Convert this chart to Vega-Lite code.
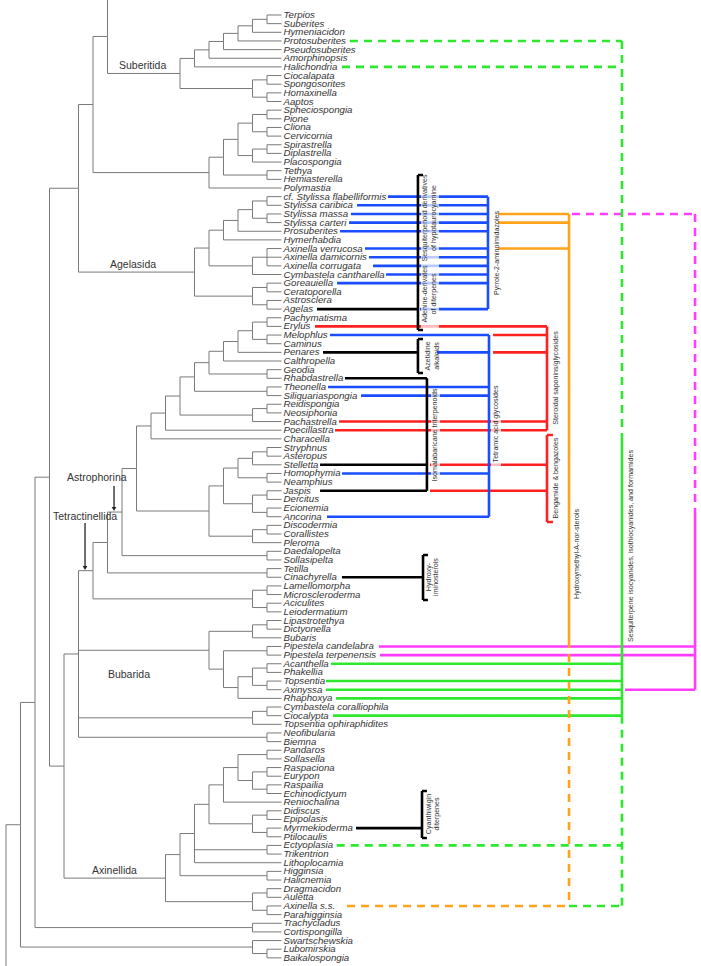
{
"$schema": "https://vega.github.io/schema/vega-lite/v6.json",
"width": 701, "height": 966, "padding": 0, "autosize": {"type": "none"},
"background": "white",
"config": {"view": {"stroke": null}},
"datasets": {
"nodes": [
{"id":"Terpios","parent":"S1","d":19,"i":1},
{"id":"Suberites","parent":"S1","d":19,"i":2},
{"id":"Hymeniacidon","parent":"S2","d":19,"i":3},
{"id":"Protosuberites","parent":"S3","d":19,"i":4},
{"id":"Pseudosuberites","parent":"S4","d":19,"i":5},
{"id":"Amorphinopsis","parent":"S5","d":19,"i":6},
{"id":"Halichondria","parent":"S6","d":19,"i":7},
{"id":"Ciocalapata","parent":"C1","d":19,"i":8},
{"id":"Spongosorites","parent":"C1","d":19,"i":9},
{"id":"Homaxinella","parent":"C2","d":19,"i":10},
{"id":"Aaptos","parent":"C2","d":19,"i":11},
{"id":"Spheciospongia","parent":"P1","d":19,"i":12},
{"id":"Pione","parent":"P1","d":19,"i":13},
{"id":"Cliona","parent":"P2","d":19,"i":14},
{"id":"Cervicornia","parent":"P2","d":19,"i":15},
{"id":"Spirastrella","parent":"P4","d":19,"i":16},
{"id":"Diplastrella","parent":"P4","d":19,"i":17},
{"id":"Placospongia","parent":"P5","d":19,"i":18},
{"id":"Tethya","parent":"P7","d":19,"i":19},
{"id":"Hemiasterella","parent":"P7","d":19,"i":20},
{"id":"Polymastia","parent":"P9","d":19,"i":21},
{"id":"cf. Stylissa flabelliformis","parent":"A0a","d":19,"i":22},
{"id":"Stylissa caribica","parent":"A0a","d":19,"i":23},
{"id":"Stylissa massa","parent":"A0b","d":19,"i":24},
{"id":"Stylissa carteri","parent":"A0b","d":19,"i":25},
{"id":"Prosuberites","parent":"A2","d":19,"i":26},
{"id":"Hymerhabdia","parent":"A3","d":19,"i":27},
{"id":"Axinella verrucosa","parent":"Ax","d":19,"i":28},
{"id":"Axinella damicornis","parent":"Ax","d":19,"i":29},
{"id":"Axinella corrugata","parent":"Ax","d":19,"i":30},
{"id":"Cymbastela cantharella","parent":"A4","d":19,"i":31},
{"id":"Goreauiella","parent":"A5a","d":19,"i":32},
{"id":"Ceratoporella","parent":"A5a","d":19,"i":33},
{"id":"Astrosclera","parent":"A5b","d":19,"i":34},
{"id":"Agelas","parent":"A5b","d":19,"i":35},
{"id":"Pachymatisma","parent":"T1","d":19,"i":36},
{"id":"Erylus","parent":"T1","d":19,"i":37},
{"id":"Melophlus","parent":"T2","d":19,"i":38},
{"id":"Caminus","parent":"T2","d":19,"i":39},
{"id":"Penares","parent":"T4","d":19,"i":40},
{"id":"Calthropella","parent":"T5","d":19,"i":41},
{"id":"Geodia","parent":"T6","d":19,"i":42},
{"id":"Rhabdastrella","parent":"T6","d":19,"i":43},
{"id":"Theonella","parent":"T8","d":19,"i":44},
{"id":"Siliquariaspongia","parent":"T8","d":19,"i":45},
{"id":"Reidispongia","parent":"T10","d":19,"i":46},
{"id":"Neosiphonia","parent":"T10","d":19,"i":47},
{"id":"Pachastrella","parent":"T11","d":19,"i":48},
{"id":"Poecillastra","parent":"T13","d":19,"i":49},
{"id":"Characella","parent":"T14","d":19,"i":50},
{"id":"Stryphnus","parent":"U1","d":19,"i":51},
{"id":"Asteropus","parent":"U1","d":19,"i":52},
{"id":"Stelletta","parent":"U2","d":19,"i":53},
{"id":"Homophymia","parent":"U3","d":19,"i":54},
{"id":"Neamphius","parent":"U3","d":19,"i":55},
{"id":"Jaspis","parent":"U5","d":19,"i":56},
{"id":"Dercitus","parent":"U5","d":19,"i":57},
{"id":"Ecionemia","parent":"U6","d":19,"i":58},
{"id":"Ancorina","parent":"U6","d":19,"i":59},
{"id":"Discodermia","parent":"U9","d":19,"i":60},
{"id":"Corallistes","parent":"U9","d":19,"i":61},
{"id":"Pleroma","parent":"U10","d":19,"i":62},
{"id":"Daedalopelta","parent":"V1","d":19,"i":63},
{"id":"Sollasipelta","parent":"V1","d":19,"i":64},
{"id":"Tetilla","parent":"W1","d":19,"i":65},
{"id":"Cinachyrella","parent":"W1","d":19,"i":66},
{"id":"Lamellomorpha","parent":"W2","d":19,"i":67},
{"id":"Microscleroderma","parent":"W2","d":19,"i":68},
{"id":"Aciculites","parent":"W3","d":19,"i":69},
{"id":"Leiodermatium","parent":"W3","d":19,"i":70},
{"id":"Lipastrotethya","parent":"B1","d":19,"i":71},
{"id":"Dictyonella","parent":"B1","d":19,"i":72},
{"id":"Bubaris","parent":"B2","d":19,"i":73},
{"id":"Pipestela candelabra","parent":"B3","d":19,"i":74},
{"id":"Pipestela terpenensis","parent":"B3","d":19,"i":75},
{"id":"Acanthella","parent":"B4","d":19,"i":76},
{"id":"Phakellia","parent":"B4","d":19,"i":77},
{"id":"Topsentia","parent":"B5","d":19,"i":78},
{"id":"Axinyssa","parent":"B5","d":19,"i":79},
{"id":"Rhaphoxya","parent":"B7","d":19,"i":80},
{"id":"Cymbastela coralliophila","parent":"CC1","d":19,"i":81},
{"id":"Ciocalypta","parent":"CC1","d":19,"i":82},
{"id":"Topsentia ophiraphidites","parent":"CC2","d":19,"i":83},
{"id":"Neofibularia","parent":"NB","d":19,"i":84},
{"id":"Biemna","parent":"NB","d":19,"i":85},
{"id":"Pandaros","parent":"X1","d":19,"i":86},
{"id":"Sollasella","parent":"X1","d":19,"i":87},
{"id":"Raspaciona","parent":"X2","d":19,"i":88},
{"id":"Eurypon","parent":"X2","d":19,"i":89},
{"id":"Raspailia","parent":"X3","d":19,"i":90},
{"id":"Echinodictyum","parent":"X3","d":19,"i":91},
{"id":"Reniochalina","parent":"X6","d":19,"i":92},
{"id":"Didiscus","parent":"X7a","d":19,"i":93},
{"id":"Epipolasis","parent":"X7a","d":19,"i":94},
{"id":"Myrmekioderma","parent":"X7b","d":19,"i":95},
{"id":"Ptilocaulis","parent":"X7b","d":19,"i":96},
{"id":"Ectyoplasia","parent":"X9","d":19,"i":97},
{"id":"Trikentrion","parent":"X9","d":19,"i":98},
{"id":"Lithoplocamia","parent":"X10","d":19,"i":99},
{"id":"Higginsia","parent":"X11","d":19,"i":100},
{"id":"Halicnemia","parent":"X11","d":19,"i":101},
{"id":"Dragmacidon","parent":"X13a","d":19,"i":102},
{"id":"Auletta","parent":"X13a","d":19,"i":103},
{"id":"Axinella s.s.","parent":"X13b","d":19,"i":104},
{"id":"Parahigginsia","parent":"X13b","d":19,"i":105},
{"id":"Trachycladus","parent":"TC","d":19,"i":106},
{"id":"Cortispongilla","parent":"TC","d":19,"i":107},
{"id":"Swartschewskia","parent":"SW2","d":19,"i":108},
{"id":"Lubomirskia","parent":"SW1","d":19,"i":109},
{"id":"Baikalospongia","parent":"SW1","d":19,"i":110},
{"id":"S1","parent":"S2","d":18,"i":1.5},
{"id":"S2","parent":"S3","d":17,"i":2.25},
{"id":"S3","parent":"S4","d":16,"i":3.125},
{"id":"S4","parent":"S5","d":15,"i":4.06},
{"id":"S5","parent":"S6","d":14,"i":5.03},
{"id":"S6","parent":"S7","d":13,"i":6.02},
{"id":"C1","parent":"C3","d":18,"i":8.5},
{"id":"C2","parent":"C3","d":18,"i":10.5},
{"id":"C3","parent":"S7","d":17,"i":9.5},
{"id":"S7","parent":"S8","d":12,"i":7.76},
{"id":"TOP","parent":"S8","d":7,"i":-0.8},
{"id":"S8","parent":"Q1","d":7,"i":3.48},
{"id":"P1","parent":"P3","d":18,"i":12.5},
{"id":"P2","parent":"P3","d":18,"i":14.5},
{"id":"P3","parent":"P6","d":17,"i":13.5},
{"id":"P4","parent":"P5","d":18,"i":16.5},
{"id":"P5","parent":"P6","d":17,"i":17.25},
{"id":"P6","parent":"P8","d":16,"i":15.375},
{"id":"P7","parent":"P8","d":18,"i":19.5},
{"id":"P8","parent":"P9","d":15,"i":17.44},
{"id":"P9","parent":"Q1","d":14,"i":19.22},
{"id":"Q1","parent":"Q2","d":6,"i":11.35},
{"id":"A0a","parent":"A1","d":18,"i":22.5},
{"id":"A0b","parent":"A1","d":18,"i":24.5},
{"id":"A1","parent":"A2","d":17,"i":23.5},
{"id":"A2","parent":"A3","d":16,"i":24.75},
{"id":"A3","parent":"A6","d":15,"i":25.875},
{"id":"Ax","parent":"A4","d":18,"i":29},
{"id":"A4","parent":"A6","d":17,"i":30},
{"id":"A6","parent":"A7","d":14,"i":27.94},
{"id":"A5a","parent":"A5","d":18,"i":32.5},
{"id":"A5b","parent":"A5","d":18,"i":34.5},
{"id":"A5","parent":"A7","d":17,"i":33.5},
{"id":"A7","parent":"Q2","d":13,"i":30.72},
{"id":"Q2","parent":"Q5","d":5,"i":21.03},
{"id":"T1","parent":"T3","d":18,"i":36.5},
{"id":"T2","parent":"T3","d":18,"i":38.5},
{"id":"T3","parent":"T4","d":17,"i":37.5},
{"id":"T4","parent":"T5","d":16,"i":38.75},
{"id":"T5","parent":"T7","d":15,"i":39.875},
{"id":"T6","parent":"T7","d":18,"i":42.5},
{"id":"T7","parent":"T9","d":14,"i":41.19},
{"id":"T8","parent":"T9","d":18,"i":44.5},
{"id":"T9","parent":"T12","d":13,"i":42.84},
{"id":"T10","parent":"T11","d":18,"i":46.5},
{"id":"T11","parent":"T12","d":17,"i":47.25},
{"id":"T12","parent":"T13","d":12,"i":45.05},
{"id":"T13","parent":"T14","d":11,"i":47.02},
{"id":"T14","parent":"T15","d":10,"i":48.51},
{"id":"U1","parent":"U2","d":18,"i":51.5},
{"id":"U2","parent":"U4","d":17,"i":52.25},
{"id":"U3","parent":"U4","d":18,"i":54.5},
{"id":"U4","parent":"U8","d":16,"i":53.375},
{"id":"U5","parent":"U7","d":18,"i":56.5},
{"id":"U6","parent":"U7","d":18,"i":58.5},
{"id":"U7","parent":"U8","d":17,"i":57.5},
{"id":"U8","parent":"U11","d":15,"i":55.44},
{"id":"U9","parent":"U10","d":18,"i":60.5},
{"id":"U10","parent":"U11","d":17,"i":61.25},
{"id":"U11","parent":"T15","d":14,"i":58.34},
{"id":"T15","parent":"T16","d":9,"i":53.43},
{"id":"V1","parent":"T16","d":18,"i":63.5},
{"id":"T16","parent":"T17","d":8,"i":58.46},
{"id":"W1","parent":"T17","d":18,"i":65.5},
{"id":"T17","parent":"T18","d":7,"i":61.98},
{"id":"W2","parent":"W4","d":18,"i":67.5},
{"id":"W3","parent":"W4","d":18,"i":69.5},
{"id":"W4","parent":"T18","d":17,"i":68.5},
{"id":"T18","parent":"Q3","d":6,"i":65.24},
{"id":"B1","parent":"B2","d":18,"i":71.5},
{"id":"B2","parent":"B9","d":17,"i":72.25},
{"id":"B3","parent":"B8","d":18,"i":74.5},
{"id":"B4","parent":"B6","d":18,"i":76.5},
{"id":"B5","parent":"B6","d":18,"i":78.5},
{"id":"B6","parent":"B7","d":17,"i":77.5},
{"id":"B7","parent":"B8","d":16,"i":78.75},
{"id":"B8","parent":"B9","d":15,"i":76.625},
{"id":"B9","parent":"Q3","d":14,"i":74.44},
{"id":"CC1","parent":"CC2","d":18,"i":81.5},
{"id":"CC2","parent":"Q3","d":17,"i":82.25},
{"id":"NB","parent":"Q3","d":18,"i":84.5},
{"id":"Q3","parent":"Q4","d":5,"i":74.87},
{"id":"X1","parent":"X5","d":18,"i":86.5},
{"id":"X2","parent":"X4","d":18,"i":88.5},
{"id":"X3","parent":"X4","d":18,"i":90.5},
{"id":"X4","parent":"X5","d":17,"i":89.5},
{"id":"X5","parent":"X6","d":16,"i":88},
{"id":"X6","parent":"X8","d":15,"i":90},
{"id":"X7a","parent":"X7","d":18,"i":93.5},
{"id":"X7b","parent":"X7","d":18,"i":95.5},
{"id":"X7","parent":"X8","d":17,"i":94.5},
{"id":"X8","parent":"X10","d":14,"i":92.25},
{"id":"X9","parent":"X10","d":18,"i":97.5},
{"id":"X10","parent":"X12","d":13,"i":95.625},
{"id":"X11","parent":"X12","d":18,"i":100.5},
{"id":"X12","parent":"X14","d":12,"i":98.06},
{"id":"X13a","parent":"X13","d":18,"i":102.5},
{"id":"X13b","parent":"X13","d":18,"i":104.5},
{"id":"X13","parent":"X14","d":17,"i":103.5},
{"id":"X14","parent":"Q4","d":11,"i":100.78},
{"id":"Q4","parent":"Q5","d":4,"i":87.83},
{"id":"Q5","parent":"Q6","d":3,"i":54.43},
{"id":"TC","parent":"Q6","d":17,"i":106.5},
{"id":"Q6","parent":"Q7","d":2,"i":80.47},
{"id":"SW1","parent":"SW2","d":18,"i":109.5},
{"id":"SW2","parent":"Q7","d":17,"i":108.75},
{"id":"Q7","parent":"R0","d":1,"i":94.61},
{"id":"BOT","parent":"R0","d":0,"i":112},
{"id":"R0","d":0,"i":103}
],
"segs": [
{"cls":"pyr","part":"branch","line":"solid","x1":26.34,"x2":33.24,"y1":22,"y2":22},
{"cls":"pyr","part":"branch","line":"solid","x1":24.21,"x2":33.24,"y1":23,"y2":23},
{"cls":"pyr","part":"branch","line":"solid","x1":23.79,"x2":33.24,"y1":24,"y2":24},
{"cls":"pyr","part":"branch","line":"solid","x1":23.66,"x2":33.24,"y1":25,"y2":25},
{"cls":"pyr","part":"branch","line":"solid","x1":23.03,"x2":33.24,"y1":26,"y2":26},
{"cls":"pyr","part":"branch","line":"solid","x1":24.76,"x2":33.24,"y1":28,"y2":28},
{"cls":"pyr","part":"branch","line":"solid","x1":25.03,"x2":33.24,"y1":29,"y2":29},
{"cls":"pyr","part":"branch","line":"solid","x1":25.31,"x2":33.24,"y1":30,"y2":30},
{"cls":"pyr","part":"branch","line":"solid","x1":26.21,"x2":33.24,"y1":31,"y2":31},
{"cls":"pyr","part":"branch","line":"solid","x1":22.83,"x2":33.24,"y1":32,"y2":32},
{"cls":"pyr","part":"branch","line":"solid","x1":28.55,"x2":33.24,"y1":35,"y2":35},
{"cls":"pyr","part":"spine","line":"solid","x1":33.24,"x2":33.24,"y1":22,"y2":35},
{"cls":"hyd","part":"branch","line":"solid","x1":33.93,"x2":38.83,"y1":24,"y2":24},
{"cls":"hyd","part":"branch","line":"solid","x1":33.93,"x2":38.83,"y1":25,"y2":25},
{"cls":"hyd","part":"branch","line":"solid","x1":33.93,"x2":38.83,"y1":28,"y2":28},
{"cls":"hyd","part":"spine","line":"solid","x1":38.83,"x2":38.83,"y1":24,"y2":73.25},
{"cls":"hyd","part":"spine","line":"dashed","x1":38.83,"x2":38.83,"y1":73.25,"y2":104},
{"cls":"hyd","part":"branch","line":"dashed","x1":23.52,"x2":38.83,"y1":104,"y2":104},
{"cls":"mag","part":"branch","line":"dashed","x1":39.03,"x2":47.52,"y1":24,"y2":24},
{"cls":"mag","part":"spine","line":"dashed","x1":47.52,"x2":47.52,"y1":24,"y2":58},
{"cls":"mag","part":"spine","line":"solid","x1":47.52,"x2":47.52,"y1":58,"y2":79},
{"cls":"mag","part":"branch","line":"solid","x1":25.72,"x2":47.52,"y1":74,"y2":74},
{"cls":"mag","part":"branch","line":"solid","x1":25.79,"x2":47.52,"y1":75,"y2":75},
{"cls":"mag","part":"branch","line":"solid","x1":42.69,"x2":47.52,"y1":79,"y2":79},
{"cls":"tet","part":"branch","line":"solid","x1":22.34,"x2":33.31,"y1":38,"y2":38},
{"cls":"tet","part":"branch","line":"solid","x1":29.72,"x2":33.31,"y1":40,"y2":40},
{"cls":"tet","part":"branch","line":"solid","x1":22.21,"x2":33.31,"y1":44,"y2":44},
{"cls":"tet","part":"branch","line":"solid","x1":24.48,"x2":33.31,"y1":45,"y2":45},
{"cls":"tet","part":"branch","line":"solid","x1":23.17,"x2":33.31,"y1":54,"y2":54},
{"cls":"tet","part":"branch","line":"solid","x1":22.14,"x2":33.31,"y1":59,"y2":59},
{"cls":"tet","part":"spine","line":"solid","x1":33.31,"x2":33.31,"y1":38,"y2":59},
{"cls":"ste","part":"branch","line":"solid","x1":21.31,"x2":37.31,"y1":37,"y2":37},
{"cls":"ste","part":"branch","line":"solid","x1":33.59,"x2":37.31,"y1":38,"y2":38},
{"cls":"ste","part":"branch","line":"solid","x1":33.59,"x2":37.31,"y1":40,"y2":40},
{"cls":"ste","part":"branch","line":"solid","x1":22.97,"x2":37.31,"y1":48,"y2":48},
{"cls":"ste","part":"branch","line":"solid","x1":22.69,"x2":37.31,"y1":49,"y2":49},
{"cls":"ste","part":"spine","line":"solid","x1":37.31,"x2":37.31,"y1":37,"y2":49},
{"cls":"ben","part":"branch","line":"solid","x1":29.24,"x2":37.31,"y1":53,"y2":53},
{"cls":"ben","part":"branch","line":"solid","x1":29.24,"x2":37.31,"y1":56,"y2":56},
{"cls":"ben","part":"spine","line":"solid","x1":37.31,"x2":37.31,"y1":49.55,"y2":59.61},
{"cls":"ben","part":"spine","line":"solid","x1":37.31,"x2":37.72,"y1":49.55,"y2":49.55},
{"cls":"ben","part":"spine","line":"solid","x1":37.31,"x2":37.72,"y1":59.61,"y2":59.61},
{"cls":"age","part":"branch","line":"solid","x1":21.45,"x2":28.41,"y1":35,"y2":35},
{"cls":"age","part":"spine","line":"solid","x1":28.41,"x2":28.41,"y1":19.5,"y2":37.42},
{"cls":"age","part":"spine","line":"solid","x1":28.41,"x2":28.76,"y1":19.5,"y2":19.5},
{"cls":"age","part":"spine","line":"solid","x1":28.41,"x2":28.76,"y1":37.42,"y2":37.42},
{"cls":"aze","part":"branch","line":"solid","x1":21.86,"x2":28.41,"y1":40,"y2":40},
{"cls":"aze","part":"spine","line":"solid","x1":28.41,"x2":28.41,"y1":38.46,"y2":42.39},
{"cls":"aze","part":"spine","line":"solid","x1":28.41,"x2":28.76,"y1":38.46,"y2":38.46},
{"cls":"aze","part":"spine","line":"solid","x1":28.41,"x2":28.76,"y1":42.39,"y2":42.39},
{"cls":"mal","part":"branch","line":"solid","x1":23.38,"x2":29.03,"y1":43,"y2":43},
{"cls":"mal","part":"branch","line":"solid","x1":21.66,"x2":29.03,"y1":53,"y2":53},
{"cls":"mal","part":"branch","line":"solid","x1":21.66,"x2":29.03,"y1":56,"y2":56},
{"cls":"mal","part":"spine","line":"solid","x1":29.03,"x2":29.03,"y1":43,"y2":56},
{"cls":"imi","part":"branch","line":"solid","x1":23.17,"x2":28.76,"y1":66,"y2":66},
{"cls":"imi","part":"spine","line":"solid","x1":28.76,"x2":28.76,"y1":63.43,"y2":68.63},
{"cls":"imi","part":"spine","line":"solid","x1":28.76,"x2":29.1,"y1":63.43,"y2":63.43},
{"cls":"imi","part":"spine","line":"solid","x1":28.76,"x2":29.1,"y1":68.63,"y2":68.63},
{"cls":"cya","part":"branch","line":"solid","x1":24.14,"x2":28.69,"y1":95,"y2":95},
{"cls":"cya","part":"spine","line":"solid","x1":28.69,"x2":28.69,"y1":90.71,"y2":96.14},
{"cls":"cya","part":"spine","line":"solid","x1":28.69,"x2":29.03,"y1":90.71,"y2":90.71},
{"cls":"cya","part":"spine","line":"solid","x1":28.69,"x2":29.03,"y1":96.14,"y2":96.14},
{"cls":"iso","part":"branch","line":"dashed","x1":23.72,"x2":42.48,"y1":4,"y2":4},
{"cls":"iso","part":"branch","line":"dashed","x1":23.17,"x2":42.48,"y1":7,"y2":7},
{"cls":"iso","part":"branch","line":"dashed","x1":22.81,"x2":42.48,"y1":97,"y2":97},
{"cls":"iso","part":"branch","line":"dashed","x1":38.83,"x2":42.48,"y1":104,"y2":104},
{"cls":"iso","part":"branch","line":"solid","x1":22.41,"x2":42.48,"y1":76,"y2":76},
{"cls":"iso","part":"branch","line":"solid","x1":22.07,"x2":42.48,"y1":78,"y2":78},
{"cls":"iso","part":"branch","line":"solid","x1":22.07,"x2":42.48,"y1":79,"y2":79},
{"cls":"iso","part":"branch","line":"solid","x1":22.76,"x2":42.48,"y1":80,"y2":80},
{"cls":"iso","part":"branch","line":"solid","x1":22.55,"x2":42.48,"y1":82,"y2":82},
{"cls":"iso","part":"spine","line":"dashed","x1":42.48,"x2":42.48,"y1":4,"y2":49.67},
{"cls":"iso","part":"spine","line":"solid","x1":42.48,"x2":42.48,"y1":49.67,"y2":82},
{"cls":"iso","part":"spine","line":"dashed","x1":42.48,"x2":42.48,"y1":82,"y2":104}
],
"halos": [
{"x1":28.62,"x2":29.86,"y1":19.73,"y2":37.19},
{"x1":29.31,"x2":29.93,"y1":44.35,"y2":54.76},
{"x1":33.45,"x2":34.14,"y1":43.54,"y2":53.14}
],
"vtext": [
{"t":"Sesquiterpenoid derivatives","x":28.9,"y":24.47},
{"t":"of hypotaurocyamine","x":29.52,"y":24.47},
{"t":"Adenine-derivates","x":28.9,"y":33.25},
{"t":"of diterpenes","x":29.52,"y":33.25},
{"t":"Pyrrole-2-aminoimidazoles","x":33.86,"y":28.51},
{"t":"Azetidine","x":29.1,"y":40.42},
{"t":"alkaloids","x":29.72,"y":40.42},
{"t":"Isomalabaricane triterpenoids","x":29.59,"y":49.55},
{"t":"Tetramic acid glycosides","x":33.76,"y":48.28},
{"t":"Steroidal saponins/glycosides","x":37.9,"y":42.97},
{"t":"Bengamide & bengazoles","x":37.9,"y":54.53},
{"t":"Hydroxymethyl-A-nor-sterols","x":39.38,"y":63.31},
{"t":"Sesquiterpene isocyanides, isothiocyanides, and formamides","x":43.1,"y":62.39},
{"t":"Hydroxy-","x":29.17,"y":65.97},
{"t":"iminosterols","x":29.66,"y":65.97},
{"t":"Cyanthiwigin","x":29.17,"y":93.37},
{"t":"diterpenes","x":29.72,"y":93.37}
],
"clades": [
{"t":"Suberitida","x":7.79,"y":6.9},
{"t":"Agelasida","x":7.17,"y":29.87},
{"t":"Astrophorina","x":4.21,"y":54.53},
{"t":"Tetractinellida","x":3.24,"y":59.03},
{"t":"Bubarida","x":7.03,"y":77.3},
{"t":"Axinellida","x":5.93,"y":99.9}
],
"arrows": [
{"x":7.45,"y1":55.45,"y2":58.0,"head":58.1},
{"x":5.45,"y1":59.73,"y2":64.7,"head":64.93}
]
},
"layer": [
{
"data": {"name": "nodes"},
"transform": [
{"lookup": "parent", "from": {"data": {"name": "nodes"}, "key": "id", "fields": ["d", "i"]}, "as": ["pd", "pi"]},
{"filter": "isValid(datum.pd)"}
],
"mark": {"type": "rule", "color": "#7a7a7a", "strokeWidth": 1},
"encoding": {
"x": {"field": "pd", "type": "quantitative", "scale": {"domain": [-0.4138, 47.931], "nice": false, "zero": false}, "axis": null},
"x2": {"field": "d"},
"y": {"field": "i", "type": "quantitative", "scale": {"domain": [-0.734, 110.94], "nice": false, "zero": false, "reverse": true}, "axis": null}
}
},
{
"data": {"name": "nodes"},
"transform": [
{"lookup": "parent", "from": {"data": {"name": "nodes"}, "key": "id", "fields": ["d", "i"]}, "as": ["pd", "pi"]},
{"filter": "isValid(datum.pd)"}
],
"mark": {"type": "rule", "color": "#7a7a7a", "strokeWidth": 1},
"encoding": {
"x": {"field": "pd", "type": "quantitative", "scale": {"domain": [-0.4138, 47.931], "nice": false, "zero": false}, "axis": null},
"y": {"field": "i", "type": "quantitative", "scale": {"domain": [-0.734, 110.94], "nice": false, "zero": false, "reverse": true}, "axis": null},
"y2": {"field": "pi"}
}
},
{
"data": {"name": "nodes"},
"transform": [{"filter": "datum.d == 19"}],
"mark": {"type": "text", "align": "left", "baseline": "middle", "dx": 2, "font": "Liberation Sans", "fontStyle": "italic", "fontSize": 9.7, "color": "#333333"},
"encoding": {
"x": {"field": "d", "type": "quantitative", "scale": {"domain": [-0.4138, 47.931], "nice": false, "zero": false}, "axis": null},
"y": {"field": "i", "type": "quantitative", "scale": {"domain": [-0.734, 110.94], "nice": false, "zero": false, "reverse": true}, "axis": null},
"text": {"field": "id"}
}
},
{
"data": {"name": "segs"},
"transform": [{"filter": "datum.part == 'branch'"}],
"mark": {"type": "rule", "strokeWidth": 2.6},
"encoding": {
"x": {"field": "x1", "type": "quantitative", "scale": {"domain": [-0.4138, 47.931], "nice": false, "zero": false}, "axis": null},
"x2": {"field": "x2"},
"y": {"field": "y1", "type": "quantitative", "scale": {"domain": [-0.734, 110.94], "nice": false, "zero": false, "reverse": true}, "axis": null},
"y2": {"field": "y2"},
"color": {"field": "cls", "type": "nominal", "legend": null, "scale": {"domain": ["pyr","tet","ste","ben","hyd","iso","mag","age","aze","mal","imi","cya"], "range": ["#1a4dff","#1a4dff","#ff2020","#ff2020","#ffa31a","#2ee82e","#ff3cff","#000000","#000000","#000000","#000000","#000000"]}},
"strokeDash": {"field": "line", "type": "nominal", "legend": null, "scale": {"domain": ["solid","dashed"], "range": [[1,0],[8,6]]}}
}
},
{
"data": {"name": "halos"},
"mark": {"type": "rect", "color": "white", "opacity": 0.7},
"encoding": {
"x": {"field": "x1", "type": "quantitative", "scale": {"domain": [-0.4138, 47.931], "nice": false, "zero": false}, "axis": null},
"x2": {"field": "x2"},
"y": {"field": "y1", "type": "quantitative", "scale": {"domain": [-0.734, 110.94], "nice": false, "zero": false, "reverse": true}, "axis": null},
"y2": {"field": "y2"}
}
},
{
"data": {"name": "segs"},
"transform": [{"filter": "datum.part == 'spine'"}],
"mark": {"type": "rule", "strokeWidth": 2.6},
"encoding": {
"x": {"field": "x1", "type": "quantitative", "scale": {"domain": [-0.4138, 47.931], "nice": false, "zero": false}, "axis": null},
"x2": {"field": "x2"},
"y": {"field": "y1", "type": "quantitative", "scale": {"domain": [-0.734, 110.94], "nice": false, "zero": false, "reverse": true}, "axis": null},
"y2": {"field": "y2"},
"color": {"field": "cls", "type": "nominal", "legend": null, "scale": {"domain": ["pyr","tet","ste","ben","hyd","iso","mag","age","aze","mal","imi","cya"], "range": ["#1a4dff","#1a4dff","#ff2020","#ff2020","#ffa31a","#2ee82e","#ff3cff","#000000","#000000","#000000","#000000","#000000"]}},
"strokeDash": {"field": "line", "type": "nominal", "legend": null, "scale": {"domain": ["solid","dashed"], "range": [[1,0],[8,6]]}}
}
},
{
"data": {"name": "vtext"},
"mark": {"type": "text", "angle": 270, "align": "center", "baseline": "middle", "font": "Liberation Sans", "fontSize": 7.1, "color": "#333333"},
"encoding": {
"x": {"field": "x", "type": "quantitative", "scale": {"domain": [-0.4138, 47.931], "nice": false, "zero": false}, "axis": null},
"y": {"field": "y", "type": "quantitative", "scale": {"domain": [-0.734, 110.94], "nice": false, "zero": false, "reverse": true}, "axis": null},
"text": {"field": "t"}
}
},
{
"data": {"name": "clades"},
"mark": {"type": "text", "align": "left", "baseline": "middle", "font": "Liberation Sans", "fontSize": 10.5, "color": "#333333"},
"encoding": {
"x": {"field": "x", "type": "quantitative", "scale": {"domain": [-0.4138, 47.931], "nice": false, "zero": false}, "axis": null},
"y": {"field": "y", "type": "quantitative", "scale": {"domain": [-0.734, 110.94], "nice": false, "zero": false, "reverse": true}, "axis": null},
"text": {"field": "t"}
}
},
{
"data": {"name": "arrows"},
"mark": {"type": "rule", "color": "#222222", "strokeWidth": 1.3},
"encoding": {
"x": {"field": "x", "type": "quantitative", "scale": {"domain": [-0.4138, 47.931], "nice": false, "zero": false}, "axis": null},
"y": {"field": "y1", "type": "quantitative", "scale": {"domain": [-0.734, 110.94], "nice": false, "zero": false, "reverse": true}, "axis": null},
"y2": {"field": "y2"}
}
},
{
"data": {"name": "arrows"},
"mark": {"type": "point", "shape": "triangle-down", "filled": true, "color": "#222222", "size": 22, "opacity": 1},
"encoding": {
"x": {"field": "x", "type": "quantitative", "scale": {"domain": [-0.4138, 47.931], "nice": false, "zero": false}, "axis": null},
"y": {"field": "head", "type": "quantitative", "scale": {"domain": [-0.734, 110.94], "nice": false, "zero": false, "reverse": true}, "axis": null}
}
}
]
}
